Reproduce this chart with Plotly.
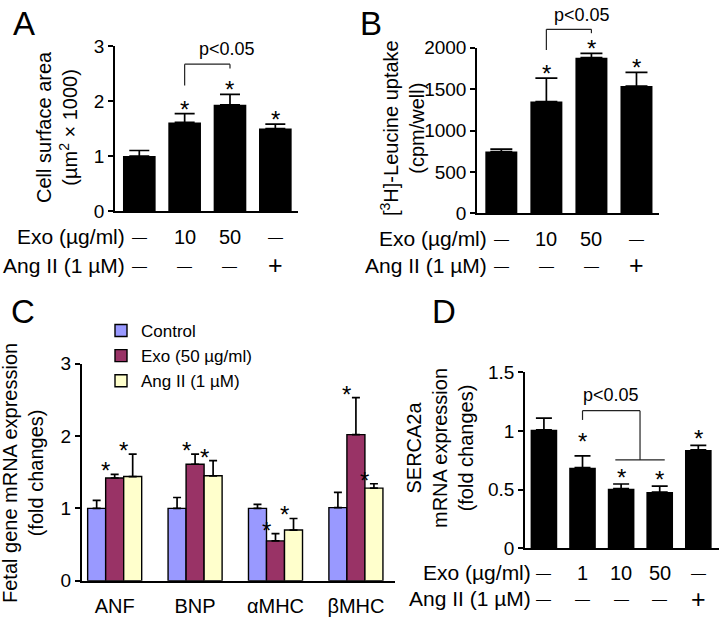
import plotly.graph_objects as go

W, H = 725, 623
FONT = "Arial, 'Liberation Sans', Helvetica, sans-serif"

# ---------------- data ----------------
# Panel A: cell surface area (um^2 x 1000)
a_vals = [1.00, 1.61, 1.93, 1.50]
a_err = [0.10, 0.16, 0.19, 0.08]
a_star = [False, True, True, True]
a_exo = ["—", "10", "50", "—"]
a_ang = ["—", "—", "—", "+"]

# Panel B: [3H]-Leucine uptake (cpm/well)
b_vals = [745, 1350, 1879, 1537]
b_err = [30, 282, 53, 165]
b_star = [False, True, True, True]
b_exo = ["—", "10", "50", "—"]
b_ang = ["—", "—", "—", "+"]

# Panel C: fetal gene mRNA expression (fold changes)
c_genes = ["ANF", "BNP", "αMHC", "βMHC"]
c_ctrl = [1.00, 1.00, 1.00, 1.01]
c_ctrl_err = [0.11, 0.15, 0.055, 0.21]
c_exo = [1.42, 1.61, 0.55, 2.02]
c_exo_err = [0.05, 0.14, 0.10, 0.51]
c_ang = [1.44, 1.45, 0.70, 1.28]
c_ang_err = [0.31, 0.21, 0.16, 0.06]

# Panel D: SERCA2a mRNA expression (fold changes)
d_vals = [1.01, 0.687, 0.508, 0.48, 0.838]
d_err = [0.10, 0.10, 0.04, 0.05, 0.04]
d_star = [False, True, True, True, True]
d_exo = ["—", "1", "10", "50", "—"]
d_ang = ["—", "—", "—", "—", "+"]

C_CTRL, C_EXO, C_ANG = "#9999FF", "#993366", "#FFFFCC"

# ---------------- geometry ----------------
def px(x):
    return x / W

def py(y):
    return 1 - y / H

XR = {"A": [-0.536, 3.50], "B": [-0.54, 3.50], "C": [-0.41, 3.486], "D": [-0.49, 4.536]}
YR = {"A": [0, 3], "B": [0, 2000], "C": [0, 3], "D": [0, 1.5]}
AX = {"A": ("x", "y"), "B": ("x2", "y2"), "C": ("x3", "y3"), "D": ("x4", "y4")}

def dx(p, x):
    r = XR[p]
    return (x - r[0]) / (r[1] - r[0])

def dy(p, y):
    r = YR[p]
    return (y - r[0]) / (r[1] - r[0])

fig = go.Figure()

def err(arr, w=10):
    return dict(type="data", array=arr, arrayminus=[0] * len(arr), symmetric=False,
                color="black", thickness=1.7, width=w)

# A
fig.add_trace(go.Bar(x=list(range(len(a_vals))), y=a_vals, width=0.72,
                     marker=dict(color="black", line=dict(width=0)),
                     error_y=err(a_err), showlegend=False, xaxis="x", yaxis="y"))
# B
fig.add_trace(go.Bar(x=list(range(len(b_vals))), y=b_vals, width=0.71,
                     marker=dict(color="black", line=dict(width=0)),
                     error_y=err(b_err, 11), showlegend=False, xaxis="x2", yaxis="y2"))
# C
cw = 0.224
for i, (name, vals, errs, col) in enumerate([
        ("Control", c_ctrl, c_ctrl_err, C_CTRL),
        ("Exo (50 µg/ml)", c_exo, c_exo_err, C_EXO),
        ("Ang II (1 µM)", c_ang, c_ang_err, C_ANG)]):
    fig.add_trace(go.Bar(x=list(range(len(c_genes))), y=vals, width=cw, offset=-1.5 * cw + i * cw,
                         name=name, marker=dict(color=col, line=dict(color="black", width=1.4)),
                         error_y=err(errs, 4), xaxis="x3", yaxis="y3"))
# D
fig.add_trace(go.Bar(x=list(range(len(d_vals))), y=d_vals, width=0.69,
                     marker=dict(color="black", line=dict(width=0)),
                     error_y=err(d_err, 8), showlegend=False, xaxis="x4", yaxis="y4"))

annotations = []
shapes = []

def star(p, x, y, shift=-11):
    xa, ya = AX[p]
    annotations.append(dict(x=dx(p, x), y=dy(p, y), xref=xa + " domain", yref=ya + " domain",
                            text="*", showarrow=False, xanchor="center", yanchor="bottom", yshift=shift,
                            font=dict(size=24, color="black", family=FONT)))

for i, s in enumerate(a_star):
    if s:
        star("A", i, a_vals[i] + a_err[i])
for i, s in enumerate(b_star):
    if s:
        star("B", i, b_vals[i] + b_err[i])
for i, s in enumerate(d_star):
    if s:
        star("D", i, d_vals[i] + d_err[i], shift=(-1 if i == 1 else -9))
for j, (vals, errs) in enumerate([(c_exo, c_exo_err), (c_ang, c_ang_err)]):
    for i in range(len(c_genes)):
        star("C", i - 0.5 * cw + j * cw, vals[i] + errs[i], shift=-12)

def line(p, x0, y0, x1, y1):
    xa, ya = AX[p]
    shapes.append(dict(type="line", xref=xa + " domain", yref=ya + " domain",
                       x0=dx(p, x0), y0=dy(p, y0), x1=dx(p, x1), y1=dy(p, y1),
                       line=dict(color="#222", width=1.2)))

def ptext(p, x, y):
    xa, ya = AX[p]
    annotations.append(dict(x=dx(p, x), y=dy(p, y), xref=xa + " domain", yref=ya + " domain",
                            text="p<0.05", showarrow=False, xanchor="center", yanchor="middle",
                            font=dict(size=18, color="black", family=FONT)))

# brackets
line("A", 1, 2.28, 1, 2.67); line("A", 1, 2.67, 2, 2.67); line("A", 2, 2.67, 2, 2.59)
ptext("A", 1.94, 2.95)
line("B", 1, 1972, 1, 2222); line("B", 1, 2222, 2, 2222); line("B", 2, 2222, 2, 2175)
ptext("B", 1.79, 2395)
line("D", 1, 1.094, 1, 1.173); line("D", 1, 1.173, 2.49, 1.173); line("D", 2.49, 1.173, 2.49, 0.753)
line("D", 1.85, 0.753, 3.13, 0.753)
ptext("D", 1.73, 1.307)

# condition rows
def rows(p, exo, ang, y_exo, y_ang):
    xa, _ = AX[p]
    for lab, yy in [("Exo (µg/ml)", y_exo), ("Ang II (1 µM)", y_ang)]:
        annotations.append(dict(x=-0.28, y=py(yy), xref=xa, yref="paper", text=lab, showarrow=False,
                                xanchor="right", yanchor="middle",
                                font=dict(size=21, color="black", family=FONT)))
    for vals, yy in [(exo, y_exo), (ang, y_ang)]:
        for i, t in enumerate(vals):
            size = 20
            if t == "—":
                size = 15
            elif t == "+":
                size = 25
            annotations.append(dict(x=i, y=py(yy), xref=xa, yref="paper", text=t, showarrow=False,
                                    xanchor="center", yanchor="middle",
                                    font=dict(size=size, color="black", family=FONT)))

rows("A", a_exo, a_ang, 237, 265)
rows("B", b_exo, b_ang, 239, 265)
rows("D", d_exo, d_ang, 572.5, 598.5)

# y-axis titles
def ytitle(text, x, y):
    annotations.append(dict(x=px(x), y=py(y), xref="paper", yref="paper", text=text, textangle=-90,
                            showarrow=False, xanchor="center", yanchor="middle",
                            font=dict(size=20, color="black", family=FONT)))

ytitle("Cell surface area<br>(µm<sup>2</sup> × 1000)", 57, 127)
ytitle("[<sup>3</sup>H]-Leucine uptake<br>(cpm/well)", 402, 128)
ytitle("Fetal gene mRNA expression<br>(fold changes)", 23, 473)
ytitle("SERCA2a<br>mRNA expression<br>(fold changes)", 440, 448)

# panel letters
for t, x, y in [("A", 24.5, 23.5), ("B", 371, 23.5), ("C", 22.5, 311.7), ("D", 443.7, 311.7)]:
    annotations.append(dict(x=px(x), y=py(y), xref="paper", yref="paper", text=t, showarrow=False,
                            xanchor="center", yanchor="middle",
                            font=dict(size=33, color="black", family=FONT)))

yax = dict(showline=True, linecolor="black", linewidth=1.5, ticks="outside", ticklen=5, tickwidth=1.5,
           tickcolor="black", showgrid=False, zeroline=False, automargin=False,
           tickfont=dict(size=19, color="black", family=FONT))
xax = dict(showline=True, linecolor="black", linewidth=1.5, ticks="", showgrid=False, zeroline=False,
           showticklabels=False, automargin=False)

fig.update_layout(
    template="none",
    width=W, height=H, margin=dict(l=0, r=0, t=0, b=0, pad=0, autoexpand=False),
    paper_bgcolor="white", plot_bgcolor="white",
    barmode="overlay", font=dict(family=FONT, color="black"),
    xaxis=dict(xax, domain=[px(115), px(298)], range=XR["A"], anchor="y"),
    yaxis=dict(yax, domain=[py(211), py(46)], range=YR["A"], tickvals=[0, 1, 2, 3], anchor="x"),
    xaxis2=dict(xax, domain=[px(477), px(659)], range=XR["B"], anchor="y2"),
    yaxis2=dict(yax, domain=[py(213.3), py(47.7)], range=YR["B"], tickvals=[0, 500, 1000, 1500, 2000], anchor="x2"),
    xaxis3=dict(xax, domain=[px(81.7), px(395)], range=XR["C"], anchor="y3", showticklabels=True,
                tickvals=list(range(len(c_genes))), ticktext=c_genes, ticklabelstandoff=7,
                tickfont=dict(size=20, color="black", family=FONT)),
    yaxis3=dict(yax, domain=[py(580.7), py(363.7)], range=YR["C"], tickvals=[0, 1, 2, 3], anchor="x3"),
    xaxis4=dict(xax, domain=[px(525), px(719)], range=XR["D"], anchor="y4"),
    yaxis4=dict(yax, domain=[py(548.3), py(372.3)], range=YR["D"], tickvals=[0, 0.5, 1, 1.5],
                ticktext=["0", "0.5", "1", "1.5"], anchor="x4"),
    legend=dict(x=px(101), y=py(313), xanchor="left", yanchor="top", bgcolor="rgba(0,0,0,0)",
                font=dict(size=17, color="black", family=FONT), tracegroupgap=0),
    annotations=annotations, shapes=shapes,
)

fig.write_html("out.html", config={"displayModeBar": False},
               post_script="document.body.style.margin='0';document.body.style.overflow='hidden';")
